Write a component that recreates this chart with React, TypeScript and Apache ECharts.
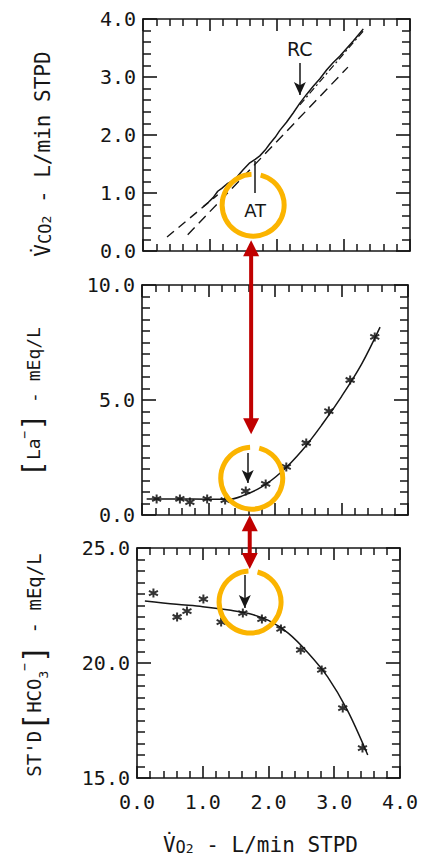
import React, { useEffect, useRef } from "react";
import * as echarts from "echarts";

// ---------- data ----------
// Panel 1: VCO2 vs VO2 (L/min STPD)
const VCO2_X = [0.90, 0.98, 1.05, 1.12, 1.18, 1.26, 1.33, 1.41, 1.50, 1.60, 1.68, 1.75, 1.83, 1.90, 1.98, 2.05, 2.15, 2.25, 2.35, 2.45, 2.55, 2.65, 2.75, 2.85, 2.95, 3.05, 3.15, 3.25, 3.30];
const VCO2_Y = [0.76, 0.84, 0.92, 1.03, 1.08, 1.16, 1.20, 1.28, 1.40, 1.52, 1.58, 1.64, 1.74, 1.85, 1.96, 2.08, 2.22, 2.38, 2.55, 2.70, 2.84, 2.97, 3.12, 3.25, 3.36, 3.49, 3.62, 3.76, 3.83];
const FIT1_X = [0.36, 1.12];
const FIT1_Y = [0.24, 0.97];
const FIT2_X = [0.67, 3.07];
const FIT2_Y = [0.28, 3.17];
const FIT3_X = [2.35, 3.32];
const FIT3_Y = [2.52, 3.82];

// Panel 2: lactate (mEq/L)
const LA_CURVE_X = [0.07, 0.5, 1.0, 1.3, 1.5, 1.8, 2.1, 2.4, 2.7, 3.0, 3.3, 3.58];
const LA_CURVE_Y = [0.70, 0.70, 0.69, 0.68, 0.82, 1.22, 1.88, 2.78, 3.90, 5.15, 6.55, 8.17];
const LA_PTS_X = [0.22, 0.57, 0.72, 0.98, 1.25, 1.56, 1.86, 2.17, 2.47, 2.81, 3.13, 3.50];
const LA_PTS_Y = [0.70, 0.70, 0.56, 0.70, 0.65, 1.04, 1.35, 2.09, 3.13, 4.52, 5.87, 7.74];

// Panel 3: standard bicarbonate (mEq/L)
const HC_CURVE_X = [0.12, 0.6, 1.0, 1.4, 1.7, 2.0, 2.3, 2.6, 2.9, 3.2, 3.51];
const HC_CURVE_Y = [22.70, 22.55, 22.45, 22.30, 22.15, 21.85, 21.30, 20.45, 19.40, 17.95, 16.0];
const HC_PTS_X = [0.25, 0.61, 0.76, 1.01, 1.28, 1.61, 1.90, 2.19, 2.49, 2.81, 3.13, 3.43];
const HC_PTS_Y = [23.04, 22.0, 22.26, 22.78, 21.78, 22.17, 21.91, 21.48, 20.57, 19.70, 18.04, 16.30];

// annotation anchors (data units)
const RC_X = 2.35, RC_TOP = 3.24, RC_TIP = 2.69;
const AT_X = 1.68, AT_LOW = 1.0, AT_HIGH = 1.55;
const LA_ARROW_X = 1.59, LA_ARROW_TOP = 2.7, LA_ARROW_TIP = 1.39;
const HC_ARROW_X = 1.64, HC_ARROW_TOP = 23.83, HC_ARROW_TIP = 22.39;
const CIRCLE1 = [1.65, 0.79];
const CIRCLE2 = [1.65, 1.6];
const CIRCLE3 = [1.72, 22.65];

// axis ranges
const X_RANGE = [0, 4];
const Y1_RANGE = [0, 4];
const Y2_RANGE = [0, 10];
const Y3_RANGE = [15, 25];

const INK = "#161616";
const GOLD = "#FBB400";
const RED = "#C00000";
const MONO = '"DejaVu Sans Mono", monospace';

const zip = (a: number[], b: number[]) => a.map((v, i) => [v, b[i]]);

const STAR = "path://M0,-6L0,6M-5.2,-3L5.2,3M-5.2,3L5.2,-3";

function xAx(gridIndex: number, position: string, showLabel: boolean) {
  return {
    type: "value",
    gridIndex,
    position,
    min: X_RANGE[0],
    max: X_RANGE[1],
    interval: 1,
    axisLine: { show: true, onZero: false, lineStyle: { color: INK, width: 1.6 } },
    axisTick: { show: true, inside: true, length: 12, lineStyle: { color: INK, width: 1.6 } },
    minorTick: { show: true, splitNumber: 5, length: 7, lineStyle: { color: INK, width: 1.5 } },
    splitLine: { show: false },
    minorSplitLine: { show: false },
    axisLabel: {
      show: showLabel,
      margin: 14,
      color: INK,
      fontFamily: MONO,
      fontSize: 20,
      formatter: (v: number) => v.toFixed(1),
    },
  };
}

function yAx(gridIndex: number, position: string, range: number[], interval: number, minor: number, showLabel: boolean) {
  return {
    type: "value",
    gridIndex,
    position,
    min: range[0],
    max: range[1],
    interval,
    axisLine: { show: true, onZero: false, lineStyle: { color: INK, width: 1.6 } },
    axisTick: { show: true, inside: true, length: 14, lineStyle: { color: INK, width: 1.6 } },
    minorTick: { show: true, splitNumber: minor, length: 8, lineStyle: { color: INK, width: 1.5 } },
    splitLine: { show: false },
    minorSplitLine: { show: false },
    axisLabel: {
      show: showLabel,
      margin: 7,
      color: INK,
      fontFamily: MONO,
      fontSize: 20,
      formatter: (v: number) => v.toFixed(1),
    },
  };
}

const arrowLine = (x: number, top: number, tip: number) => ({
  silent: true,
  symbol: ["none", "arrow"],
  symbolSize: [9, 13],
  lineStyle: { color: INK, width: 1.5, type: "solid" },
  label: { show: false },
  emphasis: { disabled: true },
  data: [[{ coord: [x, top] }, { coord: [x, tip] }]],
});

export default function App() {
  const ref = useRef<HTMLDivElement>(null);

  useEffect(() => {
    if (!ref.current) return;
    const chart = echarts.init(ref.current, null, { renderer: "svg" });

    const option: any = {
      animation: false,
      backgroundColor: "#ffffff",
      grid: [
        { left: 143, top: 19, width: 267, height: 232 },
        { left: 142, top: 285, width: 266, height: 230 },
        { left: 137, top: 548, width: 268, height: 230 },
      ],
      xAxis: [
        xAx(0, "bottom", false),
        xAx(0, "top", false),
        xAx(1, "bottom", false),
        xAx(1, "top", false),
        xAx(2, "bottom", true),
        xAx(2, "top", false),
      ],
      yAxis: [
        yAx(0, "left", Y1_RANGE, 1, 5, true),
        yAx(0, "right", Y1_RANGE, 1, 5, false),
        yAx(1, "left", Y2_RANGE, 5, 10, true),
        yAx(1, "right", Y2_RANGE, 5, 10, false),
        yAx(2, "left", Y3_RANGE, 5, 10, true),
        yAx(2, "right", Y3_RANGE, 5, 10, false),
      ],
      series: [
        {
          name: "VCO2",
          type: "line",
          xAxisIndex: 0,
          yAxisIndex: 0,
          data: zip(VCO2_X, VCO2_Y),
          showSymbol: false,
          lineStyle: { color: INK, width: 1.5 },
          markLine: {
            silent: true,
            symbol: ["none", "arrow"],
            symbolSize: [9, 13],
            lineStyle: { color: INK, width: 1.5, type: "solid" },
            emphasis: { disabled: true },
            label: {
              show: true,
              position: "start",
              formatter: "{b}",
              color: INK,
              fontFamily: '"DejaVu Sans", sans-serif',
              fontSize: 19,
              distance: 5,
            },
            data: [
              [{ name: "RC", coord: [RC_X, RC_TOP] }, { coord: [RC_X, RC_TIP] }],
              [
                { name: "AT", coord: [AT_X, AT_LOW], symbol: "none", label: { distance: 8, fontSize: 18 } },
                { coord: [AT_X, AT_HIGH], symbol: "none" },
              ],
            ],
          },
        },
        {
          name: "S1 fit",
          type: "line",
          xAxisIndex: 0,
          yAxisIndex: 0,
          data: zip(FIT1_X, FIT1_Y),
          showSymbol: false,
          lineStyle: { color: INK, width: 1.4, type: [9, 6] },
        },
        {
          name: "S2 fit",
          type: "line",
          xAxisIndex: 0,
          yAxisIndex: 0,
          data: zip(FIT2_X, FIT2_Y),
          showSymbol: false,
          lineStyle: { color: INK, width: 1.4, type: [10, 6] },
        },
        {
          name: "S3 fit",
          type: "line",
          xAxisIndex: 0,
          yAxisIndex: 0,
          data: zip(FIT3_X, FIT3_Y),
          showSymbol: false,
          lineStyle: { color: INK, width: 1.2, type: [7, 3, 2, 3] },
        },
        {
          name: "Lactate curve",
          type: "line",
          xAxisIndex: 2,
          yAxisIndex: 2,
          data: zip(LA_CURVE_X, LA_CURVE_Y),
          smooth: 0.35,
          showSymbol: false,
          lineStyle: { color: INK, width: 1.5 },
          markLine: arrowLine(LA_ARROW_X, LA_ARROW_TOP, LA_ARROW_TIP),
        },
        {
          name: "Lactate",
          type: "scatter",
          xAxisIndex: 2,
          yAxisIndex: 2,
          data: zip(LA_PTS_X, LA_PTS_Y),
          symbol: STAR,
          symbolSize: 9,
          itemStyle: { color: "transparent", borderColor: "#000", borderWidth: 2 },
        },
        {
          name: "HCO3 curve",
          type: "line",
          xAxisIndex: 4,
          yAxisIndex: 4,
          data: zip(HC_CURVE_X, HC_CURVE_Y),
          smooth: 0.35,
          showSymbol: false,
          lineStyle: { color: INK, width: 1.5 },
          markLine: arrowLine(HC_ARROW_X, HC_ARROW_TOP, HC_ARROW_TIP),
        },
        {
          name: "HCO3",
          type: "scatter",
          xAxisIndex: 4,
          yAxisIndex: 4,
          data: zip(HC_PTS_X, HC_PTS_Y),
          symbol: STAR,
          symbolSize: 9,
          itemStyle: { color: "transparent", borderColor: "#000", borderWidth: 2 },
        },
      ],
    };

    chart.setOption(option);

    const px = (g: number, pt: number[]) => chart.convertToPixel({ gridIndex: g } as any, pt) as number[];
    const c1 = px(0, CIRCLE1);
    const c2 = px(1, CIRCLE2);
    const c3 = px(2, CIRCLE3);
    const R = 31;
    const DEG = Math.PI / 180;

    const ring = (c: number[]) => ({
      type: "arc",
      z: 100,
      shape: { cx: c[0], cy: c[1], r: R, startAngle: -76 * DEG, endAngle: 267 * DEG, clockwise: true },
      style: { stroke: GOLD, lineWidth: 5, fill: "none" },
    });

    const head = (x: number, tip: number, dir: number) => ({
      type: "polygon",
      z: 101,
      shape: { points: [[x, tip], [x - 8, tip + dir * 16], [x + 8, tip + dir * 16]] },
      style: { fill: RED },
    });

    const dbl = (x: number, topTip: number, botTip: number) => [
      {
        type: "line",
        z: 101,
        shape: { x1: x, y1: topTip + 14, x2: x, y2: botTip - 14 },
        style: { stroke: RED, lineWidth: 4 },
      },
      head(x, topTip, 1),
      head(x, botTip, -1),
    ];

    const tok = (size: number, lh: number, va: string) => ({
      fontSize: size,
      fontFamily: MONO,
      color: INK,
      lineHeight: lh,
      verticalAlign: va,
    });

    const richSub = (n: number, s: number, s2: number) => ({
      n: tok(n, n + 5, "bottom"),
      s: tok(s, s + 2, "bottom"),
      s2: tok(s2, s2 - 3, "bottom"),
    });
    const richBr = (size: number, br: number) => ({
      n: tok(size, size, "middle"),
      b: tok(br, br + 2, "middle"),
      sup: tok(13, 13, "top"),
      sub: tok(13, 13, "bottom"),
    });

    const g0 = px(0, [0, 0]);
    const g0t = px(0, [0, 4]);
    const g1 = px(1, [0, 0]);
    const g1t = px(1, [0, 10]);
    const g2 = px(2, [0, 15]);
    const g2t = px(2, [0, 25]);
    const g2r = px(2, [4, 15]);

    const graphic: any[] = [
      ring(c1),
      ring(c2),
      ring(c3),
      ...dbl(c1[0] - 2, c1[1] + R + 4, c2[1] - R - 13),
      ...dbl(c2[0] - 2, c2[1] + R + 6, c3[1] - R - 2),
      {
        type: "text",
        x: g0[0] - 103,
        y: (g0[1] + g0t[1]) / 2 + 19,
        rotation: Math.PI / 2,
        style: {
          text: "{n|V̇}{s|CO}{s2|2}{n| - L/min STPD}",
          rich: richSub(21, 17, 13),
          align: "center",
          verticalAlign: "middle",
          fontFamily: MONO,
          fontSize: 21,
          fill: INK,
        },
      },
      {
        type: "text",
        x: g1[0] - 109,
        y: (g1[1] + g1t[1]) / 2 + 2,
        rotation: Math.PI / 2,
        style: {
          text: "{b|[}{n|La}{sup|−}{b|]}{n| - mEq/L}",
          rich: richBr(18, 28),
          align: "center",
          verticalAlign: "middle",
          fontFamily: MONO,
          fontSize: 18,
          fill: INK,
        },
      },
      {
        type: "text",
        x: g2[0] - 103,
        y: (g2[1] + g2t[1]) / 2 + 2,
        rotation: Math.PI / 2,
        style: {
          text: "{n|ST'D}{b|[}{n|HCO}{sub|3}{sup|−}{b|]}{n| - mEq/L}",
          rich: richBr(19, 30),
          align: "center",
          verticalAlign: "middle",
          fontFamily: MONO,
          fontSize: 19,
          fill: INK,
        },
      },
      {
        type: "text",
        x: (g2[0] + g2r[0]) / 2 - 8,
        y: g2[1] + 64,
        style: {
          text: "{n|V̇}{s|O}{s2|2}{n| - L/min STPD}",
          rich: richSub(21, 17, 13),
          align: "center",
          verticalAlign: "middle",
          fontFamily: MONO,
          fontSize: 21,
          fill: INK,
        },
      },
    ];

    chart.setOption({ graphic });

    return () => chart.dispose();
  }, []);

  return (
    <div
      ref={ref}
      style={{ position: "fixed", left: 0, top: 0, width: 421, height: 857, background: "#fff" }}
    />
  );
}
